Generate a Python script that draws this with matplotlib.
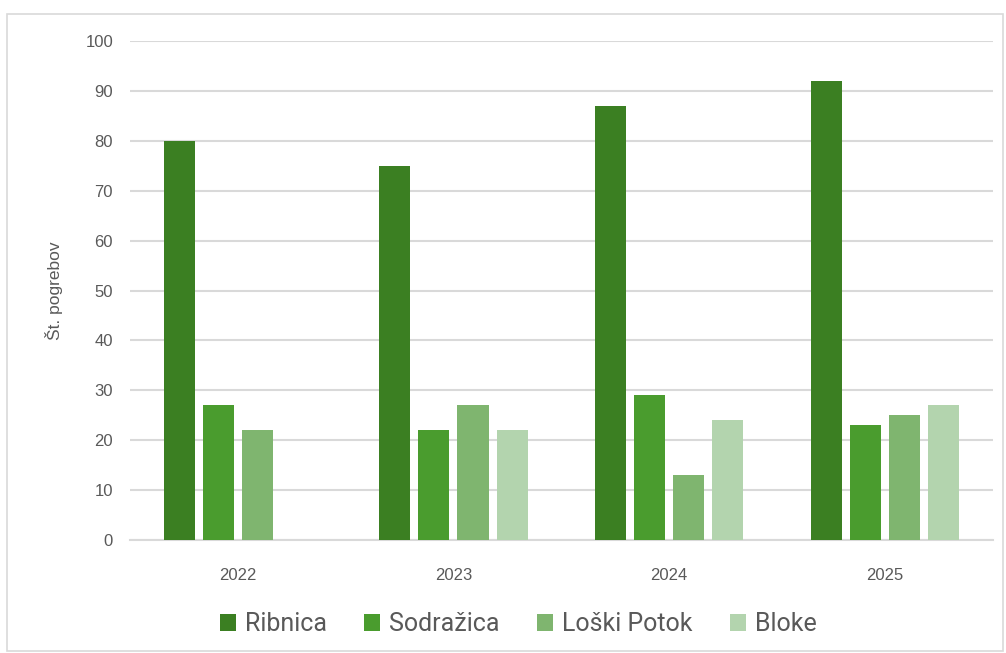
import numpy as np
import matplotlib.pyplot as plt
from matplotlib.patches import Rectangle

# data
years = ['2022', '2023', '2024', '2025']
ribnica = [80, 75, 87, 92]
sodrazica = [27, 22, 29, 23]
loski_potok = [22, 27, 13, 25]
bloke = [0, 22, 24, 27]

series = [('Ribnica', ribnica, '#3B7F22'),
          ('Sodražica', sodrazica, '#4A9C2E'),
          ('Loški Potok', loski_potok, '#7FB56F'),
          ('Bloke', bloke, '#B3D4AE')]

plt.rcParams['font.family'] = ['Liberation Sans', 'DejaVu Sans']

fig = plt.figure(figsize=(10.06, 6.53), dpi=100)
ax = fig.add_axes([0.129, 0.173, 0.858, 0.764])

# outer chart border
fig.patches.append(Rectangle((7 / 1006, 0.003), 0.99, 1 - 14 / 653 - 0.003, transform=fig.transFigure,
                             fill=False, edgecolor='#D9D9D9', linewidth=1.2))

x = np.arange(len(years))
width = 0.144
pitch = 0.181
for i, (name, vals, col) in enumerate(series):
    ax.bar(x + (i - 1.5) * pitch, vals, width, color=col, label=name, zorder=3)

ax.set_xlim(-0.5, len(years) - 0.5)
ax.set_ylim(0, 100)
ax.set_yticks(np.arange(0, 101, 10))
ax.set_xticks(x)
ax.set_xticklabels(years)
ax.grid(axis='y', color='#D9D9D9', linewidth=1.5, zorder=0)
for s in ['top', 'right', 'left']:
    ax.spines[s].set_visible(False)
ax.spines['bottom'].set_color('#D9D9D9')
ax.spines['bottom'].set_linewidth(1.5)
ax.tick_params(axis='both', length=0, labelsize=12, colors='#595959')
ax.tick_params(axis='x', pad=20)
ax.tick_params(axis='y', pad=12)
ax.set_ylabel('Št. pogrebov', fontsize=12.5, color='#595959', labelpad=16)

ax.legend(loc='upper center', bbox_to_anchor=(0.45, -0.1), ncol=4, frameon=False,
          prop={'family': 'Roboto', 'size': 18}, handlelength=0.65, handleheight=0.7,
          handletextpad=0.35, columnspacing=1.5, labelcolor='#595959')

fig.savefig('out.png', dpi=100)
